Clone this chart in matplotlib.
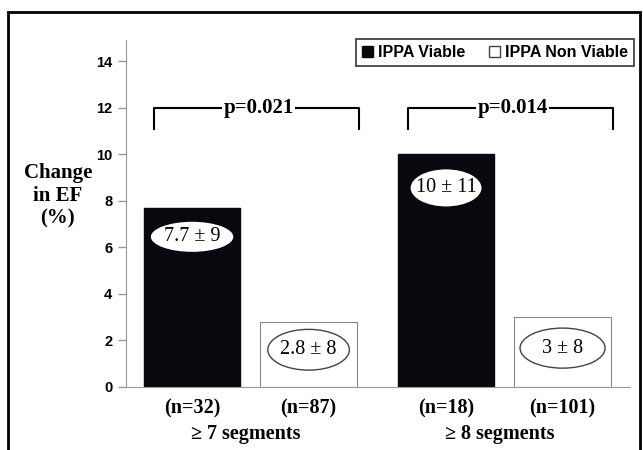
import matplotlib
matplotlib.use("Agg")
import matplotlib.pyplot as plt
from matplotlib.patches import Ellipse, Patch, Rectangle

# data
groups = ["\u2265 7 segments", "\u2265 8 segments"]
series = ["IPPA Viable", "IPPA Non Viable"]
viable = [7.7, 10.0]
non_viable = [2.8, 3.0]
n_viable = ["(n=32)", "(n=18)"]
n_non_viable = ["(n=87)", "(n=101)"]
label_viable = ["7.7 \u00b1 9", "10 \u00b1 11"]
label_non_viable = ["2.8 \u00b1 8", "3 \u00b1 8"]
p_values = ["p=0.021", "p=0.014"]

serif = "Liberation Serif"
sans = "Liberation Sans"

fig = plt.figure(figsize=(6.43, 4.5), dpi=100)
ax = fig.add_axes([0.196, 0.14, 0.784, 0.771])

gap = 2.18
width = 0.83
x_v = [g * gap for g in range(len(groups))]
x_n = [g * gap + 1.0 for g in range(len(groups))]

ax.bar(x_v, viable, width, color="#08080f", edgecolor="#08080f", zorder=2)
ax.bar(x_n, non_viable, width, color="white", edgecolor="#888888", linewidth=0.8, zorder=2)

# ellipse labels inside bars (centre heights and sizes)
ell_v_y = [6.45, 8.55]
ell_v_w = [0.72, 0.62]
ell_v_h = [1.35, 1.65]
ell_n_y = [1.6, 1.67]
ell_n_w = [0.70, 0.73]
ell_n_h = [1.75, 1.72]
for i in range(len(groups)):
    ax.add_patch(Ellipse((x_v[i], ell_v_y[i]), ell_v_w[i], ell_v_h[i],
                         facecolor="white", edgecolor="#08080f", zorder=3))
    ax.text(x_v[i], ell_v_y[i], label_viable[i], ha="center", va="center",
            family=serif, fontsize=14.5, zorder=4)
    ax.add_patch(Ellipse((x_n[i], ell_n_y[i]), ell_n_w[i], ell_n_h[i],
                         facecolor="white", edgecolor="#444444", lw=1.0, zorder=3))
    ax.text(x_n[i], ell_n_y[i], label_non_viable[i], ha="center", va="center",
            family=serif, fontsize=14.5, zorder=4)

# significance brackets
for i in range(len(groups)):
    left = x_v[i] - 0.33
    right = x_n[i] + 0.43
    ax.plot([left, left, right, right], [11.1, 12.0, 12.0, 11.1],
            color="black", lw=1.5, zorder=2, clip_on=False)
    ax.text((left + right) / 2 + 0.02, 12.0, p_values[i], ha="center", va="center",
            family=serif, fontweight="bold", fontsize=15, zorder=3,
            bbox=dict(facecolor="white", edgecolor="none", pad=1.0))

ax.set_xlim(-0.567, 3.76)
ax.set_ylim(0, 14.9)
ax.set_yticks([0, 2, 4, 6, 8, 10, 12, 14])
ax.set_xticks([])
for lab in ax.get_yticklabels():
    lab.set_family(sans)
    lab.set_fontweight("bold")
    lab.set_fontsize(10.5)
ax.tick_params(axis="y", length=6, width=1, color="#999999", pad=4)
ax.spines["top"].set_visible(False)
ax.spines["right"].set_visible(False)
ax.spines["left"].set_color("#999999")
ax.spines["bottom"].set_color("#999999")

# n labels and group labels under the axis
for i in range(len(groups)):
    ax.text(x_v[i], -0.5, n_viable[i], ha="center", va="top", family=serif,
            fontweight="bold", fontsize=14.5)
    ax.text(x_n[i], -0.5, n_non_viable[i], ha="center", va="top", family=serif,
            fontweight="bold", fontsize=14.5)
    ax.text(x_v[i] + 0.46, -1.6, groups[i], ha="center", va="top", family=serif,
            fontweight="bold", fontsize=14.5)

fig.text(0.09, 0.565, "Change\nin EF\n(%)", ha="center", va="center", family=serif,
         fontweight="bold", fontsize=15, linespacing=1.2)

handles = [Patch(facecolor="#08080f", edgecolor="#08080f"),
           Patch(facecolor="white", edgecolor="#444444")]
leg = fig.legend(handles, series, loc="upper right", bbox_to_anchor=(0.998, 0.93),
                 ncol=2, frameon=True, fancybox=False, handlelength=0.7,
                 handleheight=0.7, handletextpad=0.3, columnspacing=1.5,
                 borderpad=0.35, prop={"family": sans, "weight": "bold", "size": 11.5})
leg.get_frame().set_edgecolor("black")
leg.get_frame().set_linewidth(1.2)

# outer frame of the figure
fig.patches.append(Rectangle((0.012, -0.05), 0.983, 1.023, transform=fig.transFigure,
                             fill=False, edgecolor="black", lw=2))

fig.savefig("out.png", dpi=100)
